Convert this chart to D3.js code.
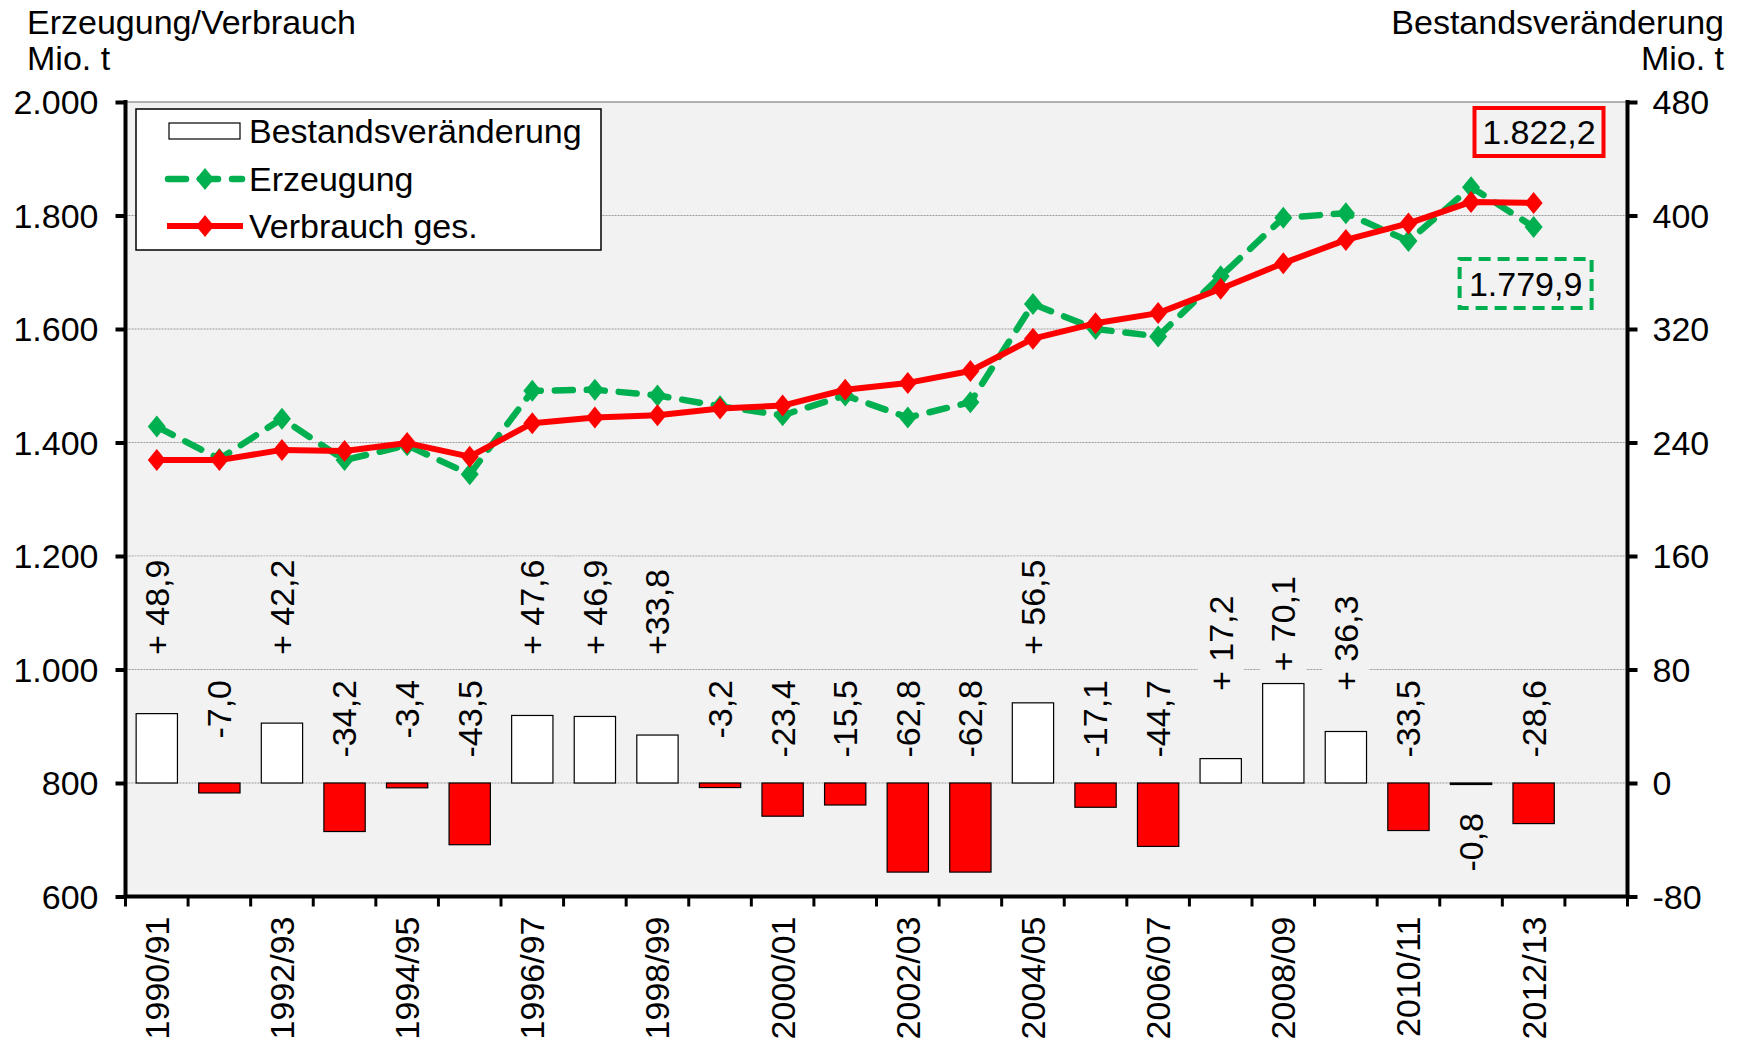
<!DOCTYPE html>
<html><head><meta charset="utf-8">
<script src="https://cdn.jsdelivr.net/npm/d3@7"></script>
<style>body{margin:0;background:#fff} text{font-family:"Liberation Sans",Arial,sans-serif;fill:#000}</style>
</head><body><svg id="c" width="1742" height="1042"></svg>
<script>
const categories = ["1990/91","1991/92","1992/93","1993/94","1994/95","1995/96","1996/97","1997/98","1998/99","1999/00","2000/01","2001/02","2002/03","2003/04","2004/05","2005/06","2006/07","2007/08","2008/09","2009/10","2010/11","2011/12","2012/13"];
const bestand = [48.9,-7.0,42.2,-34.2,-3.4,-43.5,47.6,46.9,33.8,-3.2,-23.4,-15.5,-62.8,-62.8,56.5,-17.1,-44.7,17.2,70.1,36.3,-33.5,-0.8,-28.6];
const bestandLabels = ["+ 48,9","-7,0","+ 42,2","-34,2","-3,4","-43,5","+ 47,6","+ 46,9","+33,8","-3,2","-23,4","-15,5","-62,8","-62,8","+ 56,5","-17,1","-44,7","+ 17,2","+ 70,1","+ 36,3","-33,5","-0,8","-28,6"];
const erzeugung = [1428,1371,1442,1369,1395,1344,1491,1493,1483,1464,1448,1483,1444,1471,1644,1600,1587,1693,1796,1804,1755,1850,1779.9];
const verbrauch = [1369,1369,1387,1385,1399,1375,1434,1444,1448,1460,1465,1493,1505,1526,1583,1610,1628,1671,1716,1757,1786,1824,1822.2];
const leftTicks = [600,800,1000,1200,1400,1600,1800,2000];
const leftTickLabels = ["600","800","1.000","1.200","1.400","1.600","1.800","2.000"];
const rightTicks = [-80,0,80,160,240,320,400,480];
const rightTickLabels = ["-80","0","80","160","240","320","400","480"];
const seriesNames = ["Bestandsveränderung","Erzeugung","Verbrauch ges."];
const calloutLabels = ["1.822,2","1.779,9"];
const axisTitles = {left:["Erzeugung/Verbrauch","Mio. t"], right:["Bestandsveränderung","Mio. t"]};

const W=1742,H=1042, L=125.5, R=1627.5, T=102, B=896.5;
const FS=34, GREEN="#00b050", RED="#ff0000", BG="#f2f2f2";
const svg=d3.select("#c");

const x=d3.scaleBand().domain([...categories,"_"]).range([L,R]).padding(0);
const bw=x.bandwidth();
const cx=c=>x(c)+bw/2;
const yL=d3.scaleLinear().domain([600,2000]).range([B,T]);
const yR=d3.scaleLinear().domain([-80,480]).range([B,T]);

// plot background
svg.append("rect").attr("x",L).attr("y",T).attr("width",R-L).attr("height",B-T).attr("fill",BG);
// gridlines
svg.append("g").selectAll("line").data(leftTicks.filter(v=>v>600&&v<2000)).join("line")
  .attr("x1",L).attr("x2",R).attr("y1",d=>yL(d)).attr("y2",d=>yL(d))
  .attr("stroke","#9a9a9a").attr("stroke-width",1).attr("stroke-dasharray","2,1");
svg.append("line").attr("x1",L).attr("x2",R).attr("y1",T).attr("y2",T).attr("stroke","#999").attr("stroke-width",1.5);

// bars
const bw2=bw*0.66;
svg.append("g").selectAll("rect").data(bestand).join("rect")
  .attr("x",(d,i)=>cx(categories[i])-bw2/2)
  .attr("y",d=>Math.min(yR(d),yR(0)))
  .attr("width",bw2)
  .attr("height",d=>Math.max(Math.abs(yR(d)-yR(0)),1.5))
  .attr("fill",d=>d>=0?"#fff":(Math.abs(d)<1?"#000":RED))
  .attr("stroke","#000").attr("stroke-width",1.2);

// bar labels
const lg=svg.append("g");
bestand.forEach((v,i)=>{
  let ay, anchor;
  if(v>0){ ay=Math.min(yR(v)-12, i>=17?691:655); anchor="start"; }
  else if(v>-1){ ay=yR(0)+30; anchor="end"; }
  else { ay=680; anchor="end"; }
  const g=lg.append("g").attr("transform",`translate(${cx(categories[i])},${ay}) rotate(-90)`);
  const r=g.append("rect").attr("fill",BG);
  const t=g.append("text").attr("font-size",FS).attr("text-anchor",anchor).attr("dy","0.35em").text(bestandLabels[i]);
  const bb=t.node().getBBox();
  r.attr("x",bb.x-3).attr("y",bb.y-4).attr("width",bb.width+6).attr("height",bb.height+8);
});

// lines
const diamond="M0,-11L9,0L0,11L-9,0Z";
function series(data,color,dash){
  const line=d3.line().x((d,i)=>cx(categories[i])).y(d=>yL(d));
  svg.append("path").datum(data).attr("d",line).attr("fill","none").attr("stroke",color)
    .attr("stroke-width",dash?6.5:6).attr("stroke-linejoin","round").attr("stroke-linecap",dash?"round":"butt")
    .attr("stroke-dasharray",dash?"18,14":null);
  svg.append("g").selectAll("path").data(data).join("path")
    .attr("transform",(d,i)=>`translate(${cx(categories[i])},${yL(d)})`)
    .attr("d",diamond).attr("fill",color);
}
series(erzeugung,GREEN,true);
series(verbrauch,RED,false);

// axes
const axL=svg.append("g").attr("transform",`translate(${L},0)`)
  .call(d3.axisLeft(yL).tickValues(leftTicks).tickFormat((d,i)=>leftTickLabels[i]).tickSize(10).tickPadding(17));
const axR=svg.append("g").attr("transform",`translate(${R},0)`)
  .call(d3.axisRight(yR).tickValues(rightTicks).tickFormat((d,i)=>rightTickLabels[i]).tickSize(10).tickPadding(15));
[axL,axR].forEach(a=>{
  a.select(".domain").attr("stroke","#000").attr("stroke-width",4).attr("d",`M0,${T-2}V${B}`);
  a.selectAll(".tick line").attr("stroke","#000").attr("stroke-width",4);
  a.selectAll(".tick text").attr("font-size",FS).attr("font-family","Liberation Sans, Arial, sans-serif").attr("dy","0.35em");
});
// bottom axis
const bx=svg.append("g");
bx.append("line").attr("x1",L-2).attr("x2",R+2).attr("y1",B).attr("y2",B).attr("stroke","#000").attr("stroke-width",4);
bx.selectAll("line.t").data([...categories,"_"]).join("line").attr("class","t")
  .attr("x1",d=>x(d)).attr("x2",d=>x(d)).attr("y1",B).attr("y2",B+10).attr("stroke","#000").attr("stroke-width",3);
bx.append("line").attr("x1",R).attr("x2",R).attr("y1",B).attr("y2",B+10).attr("stroke","#000").attr("stroke-width",3);
bx.selectAll("text").data(categories.filter((d,i)=>i%2===0)).join("text")
  .attr("transform",d=>`translate(${cx(d)},${B+20}) rotate(-90)`)
  .attr("text-anchor","end").attr("dy","0.35em").attr("font-size",FS).text(d=>d);

// axis titles
svg.append("text").attr("x",27).attr("y",34).attr("font-size",FS).text(axisTitles.left[0]);
svg.append("text").attr("x",27).attr("y",70).attr("font-size",FS).text(axisTitles.left[1]);
svg.append("text").attr("x",1724).attr("y",34).attr("font-size",FS).attr("text-anchor","end").text(axisTitles.right[0]);
svg.append("text").attr("x",1724).attr("y",70).attr("font-size",FS).attr("text-anchor","end").text(axisTitles.right[1]);

// legend
const leg=svg.append("g");
leg.append("rect").attr("x",136).attr("y",109).attr("width",465).attr("height",141).attr("fill","#fff").attr("stroke","#000").attr("stroke-width",1.5);
const ly=[131,179,226];
leg.append("rect").attr("x",169).attr("y",ly[0]-8).attr("width",71).attr("height",16).attr("fill","#fff").attr("stroke","#000").attr("stroke-width",1.2);
leg.append("line").attr("x1",168).attr("x2",242).attr("y1",ly[1]).attr("y2",ly[1]).attr("stroke",GREEN).attr("stroke-width",6.5).attr("stroke-linecap","round").attr("stroke-dasharray","18,14");
leg.append("path").attr("transform",`translate(205,${ly[1]})`).attr("d",diamond).attr("fill",GREEN);
leg.append("line").attr("x1",167).attr("x2",243).attr("y1",ly[2]).attr("y2",ly[2]).attr("stroke",RED).attr("stroke-width",6);
leg.append("path").attr("transform",`translate(205,${ly[2]})`).attr("d",diamond).attr("fill",RED);
seriesNames.forEach((s,i)=>leg.append("text").attr("x",249).attr("y",ly[i]).attr("dy","0.35em").attr("font-size",FS).text(s));

// callouts
const last=categories[categories.length-1];
const c1=svg.append("g");
c1.append("rect").attr("x",R-153).attr("y",T+6).attr("width",129).attr("height",48).attr("fill",BG).attr("stroke",RED).attr("stroke-width",4);
c1.append("text").attr("x",R-153+64.5).attr("y",T+30).attr("dy","0.35em").attr("text-anchor","middle").attr("font-size",FS).text(calloutLabels[0]);
const gx=cx(last)-8, gy=yL(erzeugung[erzeugung.length-1]);
const c2=svg.append("g");
c2.append("rect").attr("x",gx-66).attr("y",gy+32).attr("width",132).attr("height",49).attr("fill",BG).attr("stroke",GREEN).attr("stroke-width",4).attr("stroke-dasharray","12,7");
c2.append("text").attr("x",gx).attr("y",gy+57).attr("dy","0.35em").attr("text-anchor","middle").attr("font-size",FS).text(calloutLabels[1]);
</script></body></html>
